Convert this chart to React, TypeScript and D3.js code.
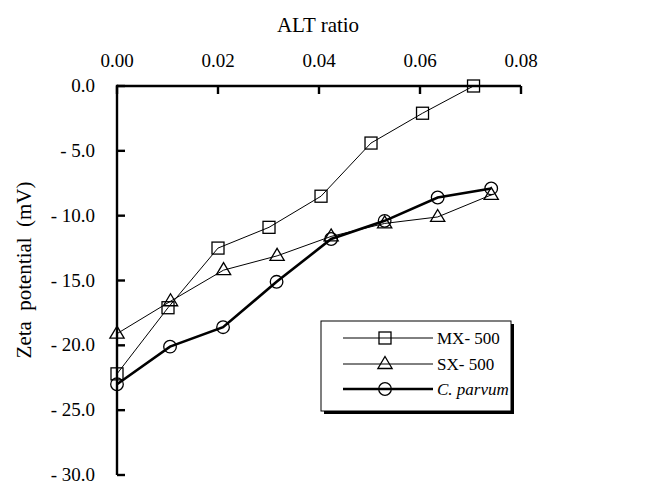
import React from "react";
import * as d3 from "d3";

// ALT ratio (x) and zeta potential in mV (y) for each sample
const mxRatio = [0.0, 0.0101, 0.02, 0.0301, 0.0404, 0.0503, 0.0605, 0.0706];
const mxZeta = [-22.2, -17.1, -12.5, -10.9, -8.5, -4.4, -2.1, 0.0];

const sxRatio = [0.0, 0.0106, 0.0211, 0.0317, 0.0424, 0.053, 0.0635, 0.0741];
const sxZeta = [-19.1, -16.6, -14.2, -13.1, -11.6, -10.6, -10.1, -8.4];

const cpRatio = [0.0, 0.0105, 0.021, 0.0316, 0.0424, 0.053, 0.0635, 0.0741];
const cpZeta = [-23.0, -20.1, -18.6, -15.1, -11.8, -10.4, -8.6, -7.9];

const xTicks = [0, 0.02, 0.04, 0.06, 0.08];
const yTicks = [0, -5, -10, -15, -20, -25, -30];

const W = 656;
const H = 487;
const FONT = "'Liberation Serif', 'Times New Roman', serif";

const x = d3.scaleLinear().domain([0, 0.08]).range([117, 521]);
const y = d3.scaleLinear().domain([0, -30]).range([86, 475]);

type Pt = [number, number];
const zip = (a: number[], b: number[]): Pt[] => a.map((v, i) => [v, b[i]]);

const line = d3
  .line<Pt>()
  .x((d) => x(d[0]))
  .y((d) => y(d[1]));

function Square({ cx, cy }: { cx: number; cy: number }) {
  const s = 12;
  return <rect x={cx - s / 2} y={cy - s / 2} width={s} height={s} fill="none" stroke="black" strokeWidth={1.3} />;
}
function Triangle({ cx, cy }: { cx: number; cy: number }) {
  const r = 7.5;
  const p = `${cx},${cy - r} ${cx + r * 0.95},${cy + r * 0.6} ${cx - r * 0.95},${cy + r * 0.6}`;
  return <polygon points={p} fill="none" stroke="black" strokeWidth={1.3} />;
}
function Circle({ cx, cy }: { cx: number; cy: number }) {
  return <circle cx={cx} cy={cy} r={6.3} fill="none" stroke="black" strokeWidth={1.3} />;
}

const fmtY = (v: number) => (v === 0 ? "0.0" : "- " + Math.abs(v).toFixed(1));

export default function App() {
  const mx = zip(mxRatio, mxZeta);
  const sx = zip(sxRatio, sxZeta);
  const cp = zip(cpRatio, cpZeta);
  const lg = { x: 321, y: 321, w: 190, h: 90 };
  const rows = [338, 364, 389];
  const sampleX1 = 343;
  const sampleX2 = 433;
  const markX = 385;
  const textX = 437;
  return (
    <svg width={W} height={H} style={{ position: "absolute", left: 0, top: 0, background: "white" }} fontFamily={FONT}>
      <rect width={W} height={H} fill="white" />
      {/* axis titles */}
      <text x={318} y={32} fontSize={21} textAnchor="middle">ALT ratio</text>
      <text transform="translate(31,270) rotate(-90)" fontSize={21} textAnchor="middle" wordSpacing={5}>
        Zeta potential (mV)
      </text>

      {/* top x axis */}
      <line x1={x(0)} x2={x(0.08)} y1={y(0)} y2={y(0)} stroke="black" strokeWidth={2.4} />
      {xTicks.map((t) => (
        <g key={t}>
          <line x1={x(t)} x2={x(t)} y1={y(0)} y2={y(0) + 8} stroke="black" strokeWidth={2.4} />
          <text x={x(t)} y={67} fontSize={19} textAnchor="middle">{t.toFixed(2)}</text>
        </g>
      ))}

      {/* left y axis */}
      <line x1={x(0)} x2={x(0)} y1={y(0) - 1.2} y2={y(-30)} stroke="black" strokeWidth={2.4} />
      {yTicks.map((t) => (
        <g key={t}>
          <line x1={x(0)} x2={x(0) + 8} y1={y(t)} y2={y(t)} stroke="black" strokeWidth={2.4} />
          <text x={95} y={y(t) + 6} fontSize={19} textAnchor="end">{fmtY(t)}</text>
        </g>
      ))}

      {/* series */}
      <path d={line(mx) ?? ""} fill="none" stroke="black" strokeWidth={1} />
      <path d={line(sx) ?? ""} fill="none" stroke="black" strokeWidth={1} />
      <path d={line(cp) ?? ""} fill="none" stroke="black" strokeWidth={2.6} />
      {mx.map((d, i) => <Square key={"m" + i} cx={x(d[0])} cy={y(d[1])} />)}
      {sx.map((d, i) => <Triangle key={"s" + i} cx={x(d[0])} cy={y(d[1])} />)}
      {cp.map((d, i) => <Circle key={"c" + i} cx={x(d[0])} cy={y(d[1])} />)}

      {/* legend */}
      <rect x={lg.x + 3} y={lg.y + 3} width={lg.w} height={lg.h} fill="black" />
      <rect x={lg.x} y={lg.y} width={lg.w} height={lg.h} fill="white" stroke="black" strokeWidth={1} />
      <line x1={sampleX1} x2={sampleX2} y1={rows[0]} y2={rows[0]} stroke="black" strokeWidth={1} />
      <Square cx={markX} cy={rows[0]} />
      <text x={textX} y={rows[0] + 6} fontSize={17}>MX- 500</text>
      <line x1={sampleX1} x2={sampleX2} y1={rows[1]} y2={rows[1]} stroke="black" strokeWidth={1} />
      <Triangle cx={markX} cy={rows[1]} />
      <text x={textX} y={rows[1] + 6} fontSize={17}>SX- 500</text>
      <line x1={sampleX1} x2={sampleX2} y1={rows[2]} y2={rows[2]} stroke="black" strokeWidth={2.6} />
      <Circle cx={markX} cy={rows[2]} />
      <text x={textX} y={rows[2] + 6} fontSize={17} fontStyle="italic">C. parvum</text>
    </svg>
  );
}
